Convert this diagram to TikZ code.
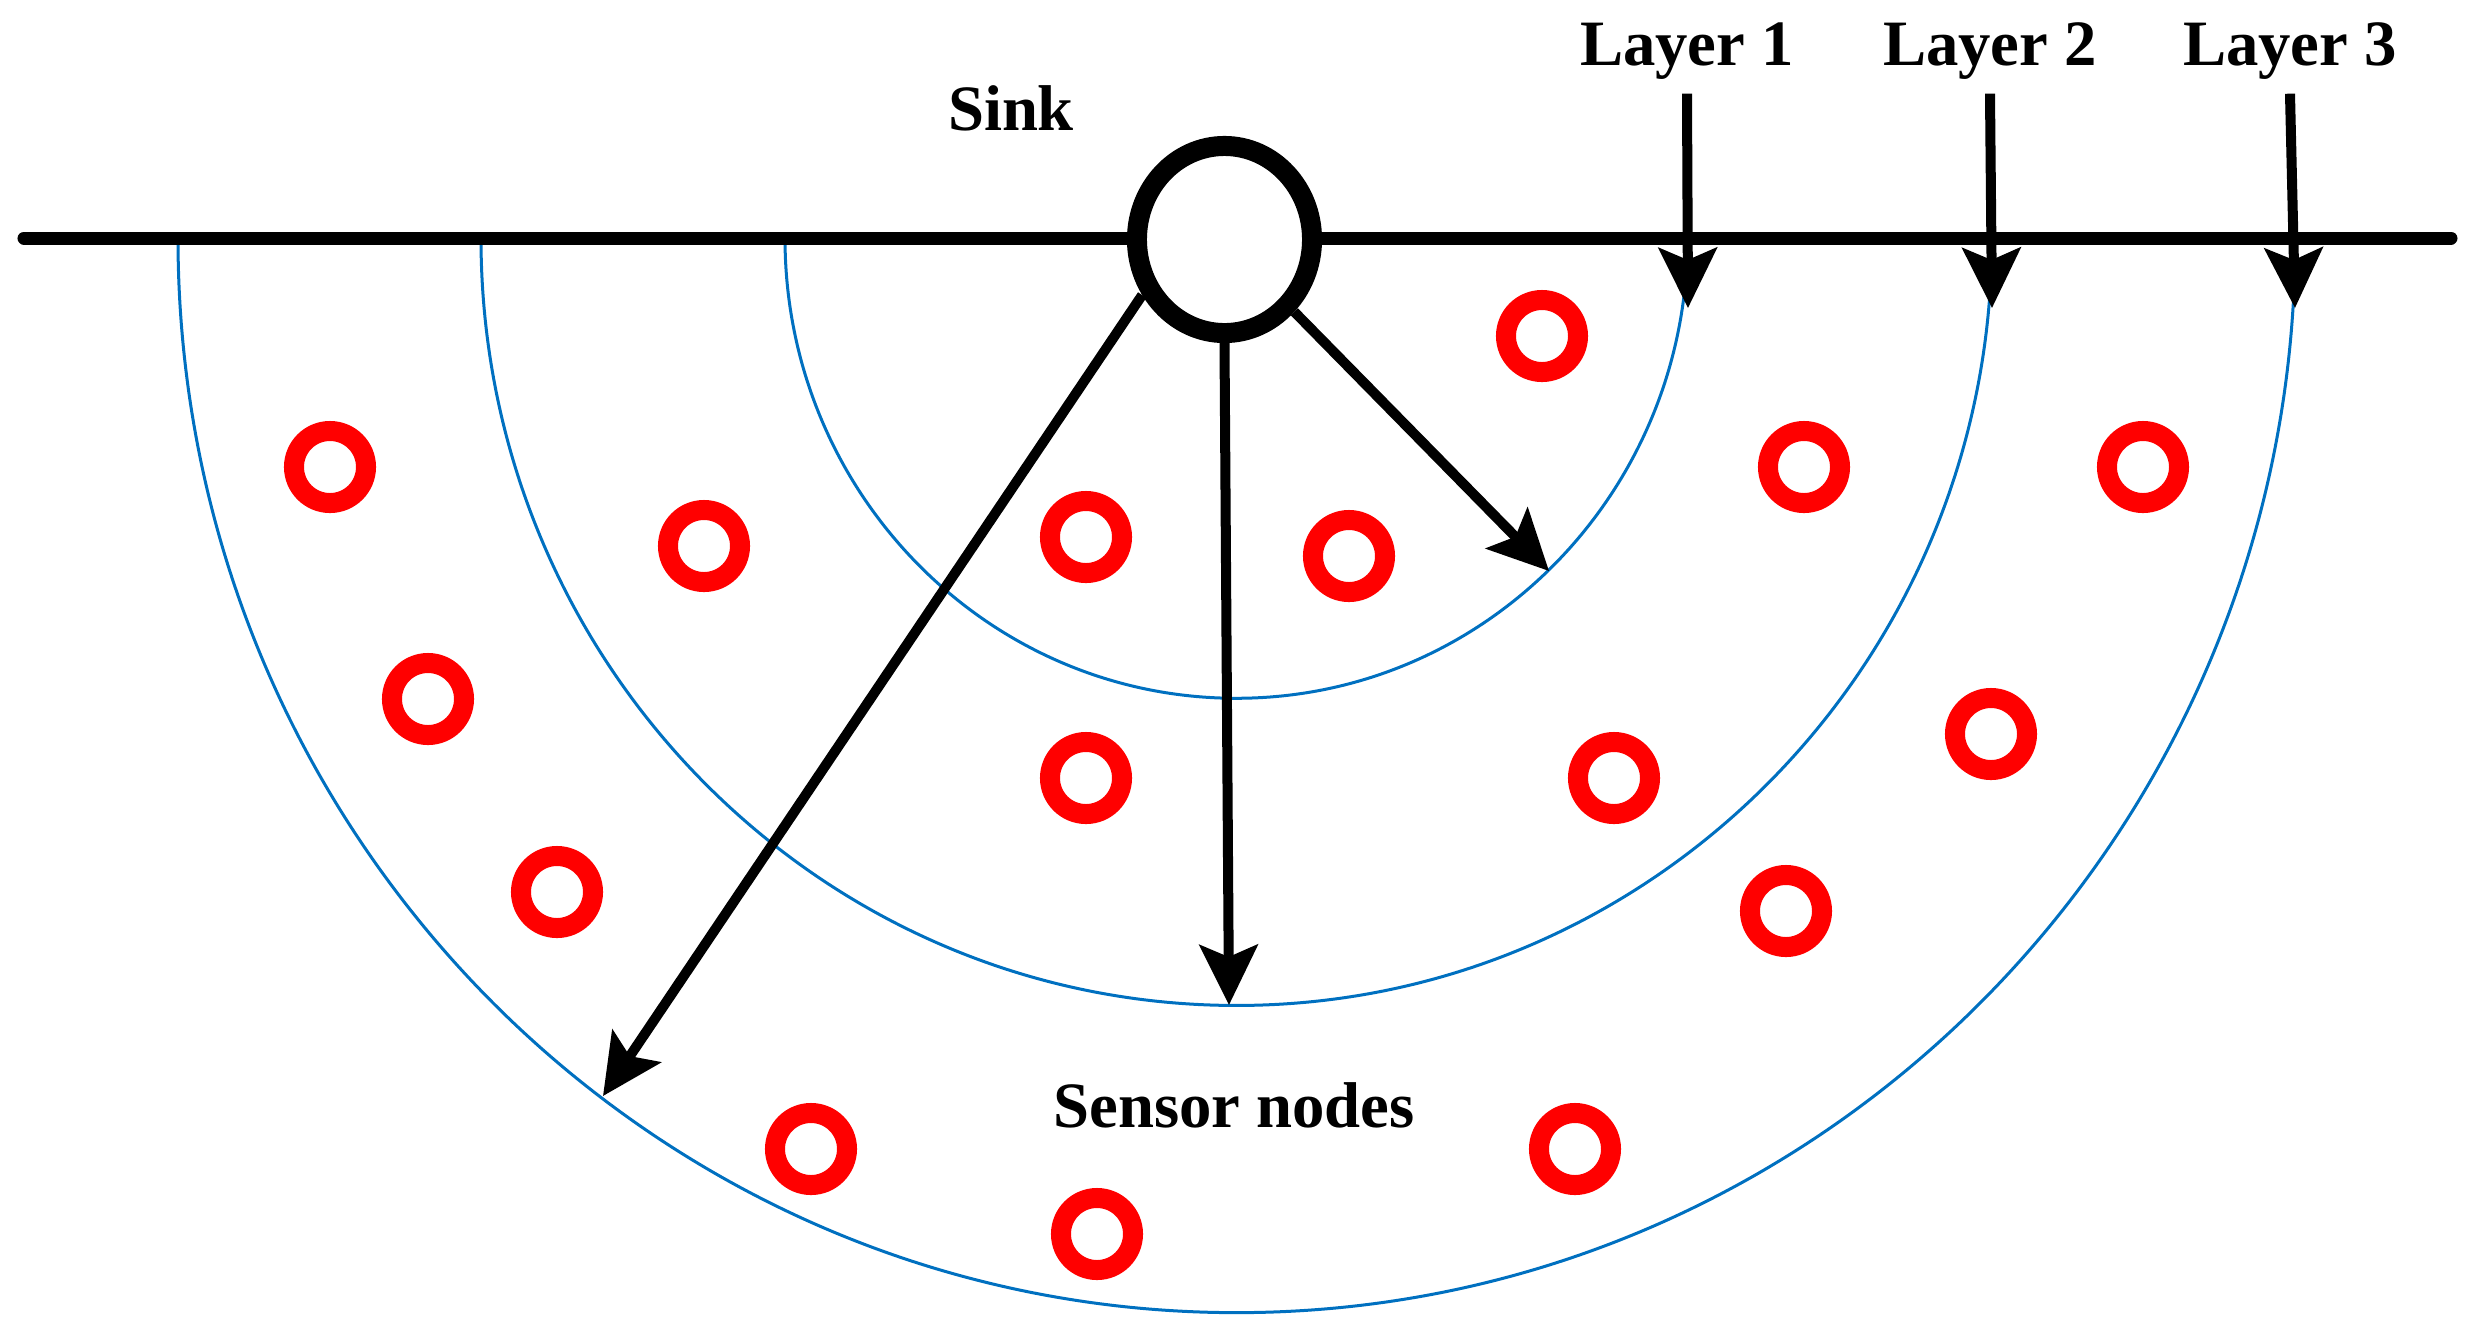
\documentclass[tikz,border=0pt]{standalone}
\usepackage{fontspec}
\setmainfont{Liberation Serif}
\usetikzlibrary{arrows.meta,shapes.geometric,positioning}
\definecolor{layerblue}{RGB}{0,112,192}

\begin{document}
\begin{tikzpicture}[x=0.01cm,y=-0.01cm,{sensor/.style={circle,draw=red,line width=0.2cm,minimum size=0.72cm,inner sep=0pt}},{sinknode/.style={ellipse,draw=black,fill=white,line width=0.2cm,minimum width=1.75cm,minimum height=1.87cm,inner sep=0pt}},{lab/.style={font=\bfseries\fontsize{18.4}{22}\selectfont,inner sep=0.14cm}},{arr/.style={line width=0.1cm,-{Stealth[length=0.6cm,width=0.58cm,inset=0.12cm]}}},{layer/.style={color=layerblue,line width=0.03cm}}]
	\useasboundingbox (0,0) rectangle (2474,1335);
	%%tips of arrows
	\coordinate (t1) at (1688,308);
	\coordinate (t2) at (1992,308);
	\coordinate (t3) at (2295,308);
	\coordinate (tA) at (603,1096);
	\coordinate (tB) at (1229,1005);
	\coordinate (tC) at (1549,571);
	%%layers
	\draw [layer] (785,238) arc [start angle=180,end angle=360,x radius=4.51cm,y radius=4.60cm];
	\draw [layer] (481,238) arc [start angle=180,end angle=360,x radius=7.55cm,y radius=7.67cm];
	\draw [layer] (178,238) arc [start angle=180,end angle=360,x radius=10.58cm,y radius=10.74cm];
	%%surface
	\draw [line width=0.13cm,line cap=round] (24,238) -- (2451,238);
	%%sensor nodes
	\foreach \x/\y [count=\i] in {1542/336,330/467,704/546,1086/537,1349/556,1804/467,2143/467,428/699,1086/778,1614/778,1991/734,557/892,1786/911,811/1149,1575/1149,1097/1234}
		\node [sensor] (s\i) at (\x,\y) {};
	%%sink
	\node [sinknode] (sink) at (1224.5,239.5) {};
	%%labels
	\node [lab,anchor=base] (sinklab) at (1011,130) {Sink};
	\node [lab,anchor=base] (sens) at (1234,1127) {Sensor nodes};
	\node [lab,anchor=base] (lay1) at (1687,65) {Layer 1};
	\node [lab,anchor=base] (lay2) at (1990,65) {Layer 2};
	\node [lab,anchor=base] (lay3) at (2290,65) {Layer 3};
	%%arrows
	\draw [arr] (lay1.south) -- (t1);
	\draw [arr] (lay2.south) -- (t2);
	\draw [arr] (lay3.south) -- (t3);
	\draw [arr] (sink.214) -- (tA);
	\draw [arr] (sink.south) -- (tB);
	\draw [arr] (sink.314) -- (tC);
\end{tikzpicture}
\end{document}
